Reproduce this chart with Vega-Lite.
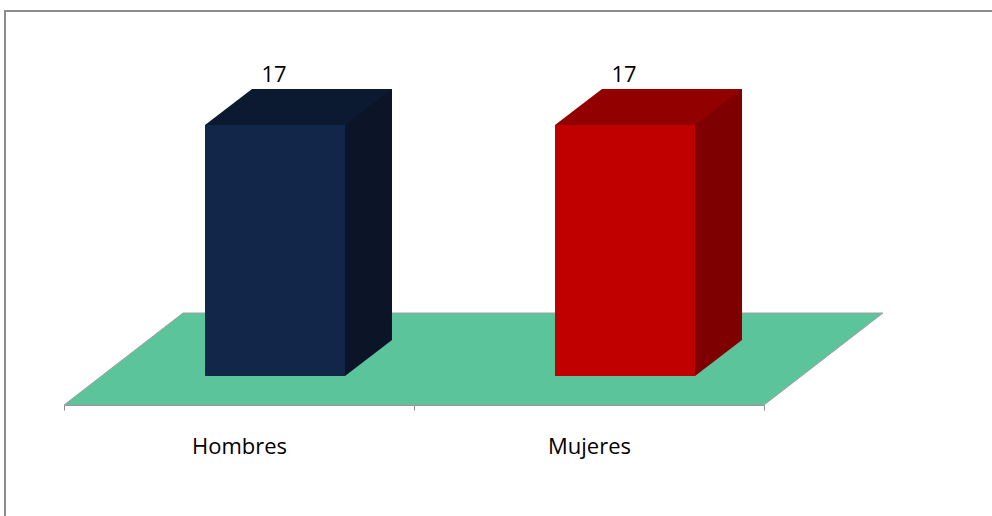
{
  "$schema": "https://vega.github.io/schema/vega-lite/v6.json",
  "width": 990,
  "height": 508,
  "autosize": {"type": "none"},
  "padding": {"left": 5, "top": 11, "right": -3, "bottom": -3},
  "background": "white",
  "data": {"values": [
    {"categoria": "Hombres", "valor": 17},
    {"categoria": "Mujeres", "valor": 17}
  ]},
  "layer": [
    {
      "transform": [{"filter": "datum.categoria == 'Hombres'"}],
      "mark": {"type": "point", "shape": "M-175,29 L-56,-63 L644,-63 L525,29 Z", "size": 4, "filled": true, "fill": "#5cc49b", "stroke": "#a0a0a0", "strokeWidth": 1, "opacity": 1},
      "encoding": {
        "x": {
          "field": "categoria", "type": "nominal",
          "scale": {"range": [59, 759], "paddingInner": 0, "paddingOuter": 0},
          "axis": {
            "title": null, "tickBand": "extent", "labelAngle": 0, "grid": false,
            "domainColor": "#8c8c8c", "domainWidth": 1, "tickColor": "#8c8c8c", "tickSize": 5,
            "labelFont": "Open Sans", "labelFontSize": 22, "labelColor": "#000000",
            "labelBaseline": "alphabetic", "labelPadding": 43, "offset": -114
          }
        },
        "y": {"datum": 0, "type": "quantitative", "scale": {"domain": [-9.685, 24.721], "nice": false, "zero": false}, "axis": null}
      }
    },
    {
      "mark": {"type": "bar", "width": 47, "xOffset": 129.5, "yOffset": -36, "y2Offset": -36},
      "encoding": {
        "x": {"field": "categoria", "type": "nominal"},
        "y": {"field": "valor", "type": "quantitative"},
        "y2": {"datum": 0},
        "color": {"field": "categoria", "type": "nominal", "scale": {"range": ["#0b1527", "#7e0000"]}, "legend": null}
      }
    },
    {
      "mark": {"type": "point", "shape": "M106,-36 L106,0 L153,-36 Z", "size": 4, "filled": true, "opacity": 1},
      "encoding": {
        "x": {"field": "categoria", "type": "nominal"},
        "y": {"datum": 0, "type": "quantitative"},
        "color": {"field": "categoria", "type": "nominal", "scale": {"range": ["#0b1527", "#7e0000"]}, "legend": null}
      }
    },
    {
      "mark": {"type": "bar", "width": 140, "xOffset": 36},
      "encoding": {
        "x": {"field": "categoria", "type": "nominal"},
        "y": {"field": "valor", "type": "quantitative"},
        "y2": {"datum": 0},
        "color": {"field": "categoria", "type": "nominal", "scale": {"range": ["#12264a", "#c00000"]}, "legend": null}
      }
    },
    {
      "mark": {"type": "point", "shape": "M-34,0 L13,-36 L153,-36 L106,0 Z", "size": 4, "filled": true, "opacity": 1},
      "encoding": {
        "x": {"field": "categoria", "type": "nominal"},
        "y": {"field": "valor", "type": "quantitative"},
        "color": {"field": "categoria", "type": "nominal", "scale": {"range": ["#0c1a31", "#920000"]}, "legend": null}
      }
    },
    {
      "mark": {"type": "text", "dx": 35, "dy": -43, "baseline": "alphabetic", "align": "center", "font": "Open Sans", "fontSize": 22, "color": "#000000"},
      "encoding": {
        "x": {"field": "categoria", "type": "nominal"},
        "y": {"field": "valor", "type": "quantitative"},
        "text": {"field": "valor", "type": "quantitative"}
      }
    }
  ],
  "resolve": {"scale": {"color": "independent"}},
  "config": {"view": {"stroke": "#8c8c8c", "strokeWidth": 2}}
}
